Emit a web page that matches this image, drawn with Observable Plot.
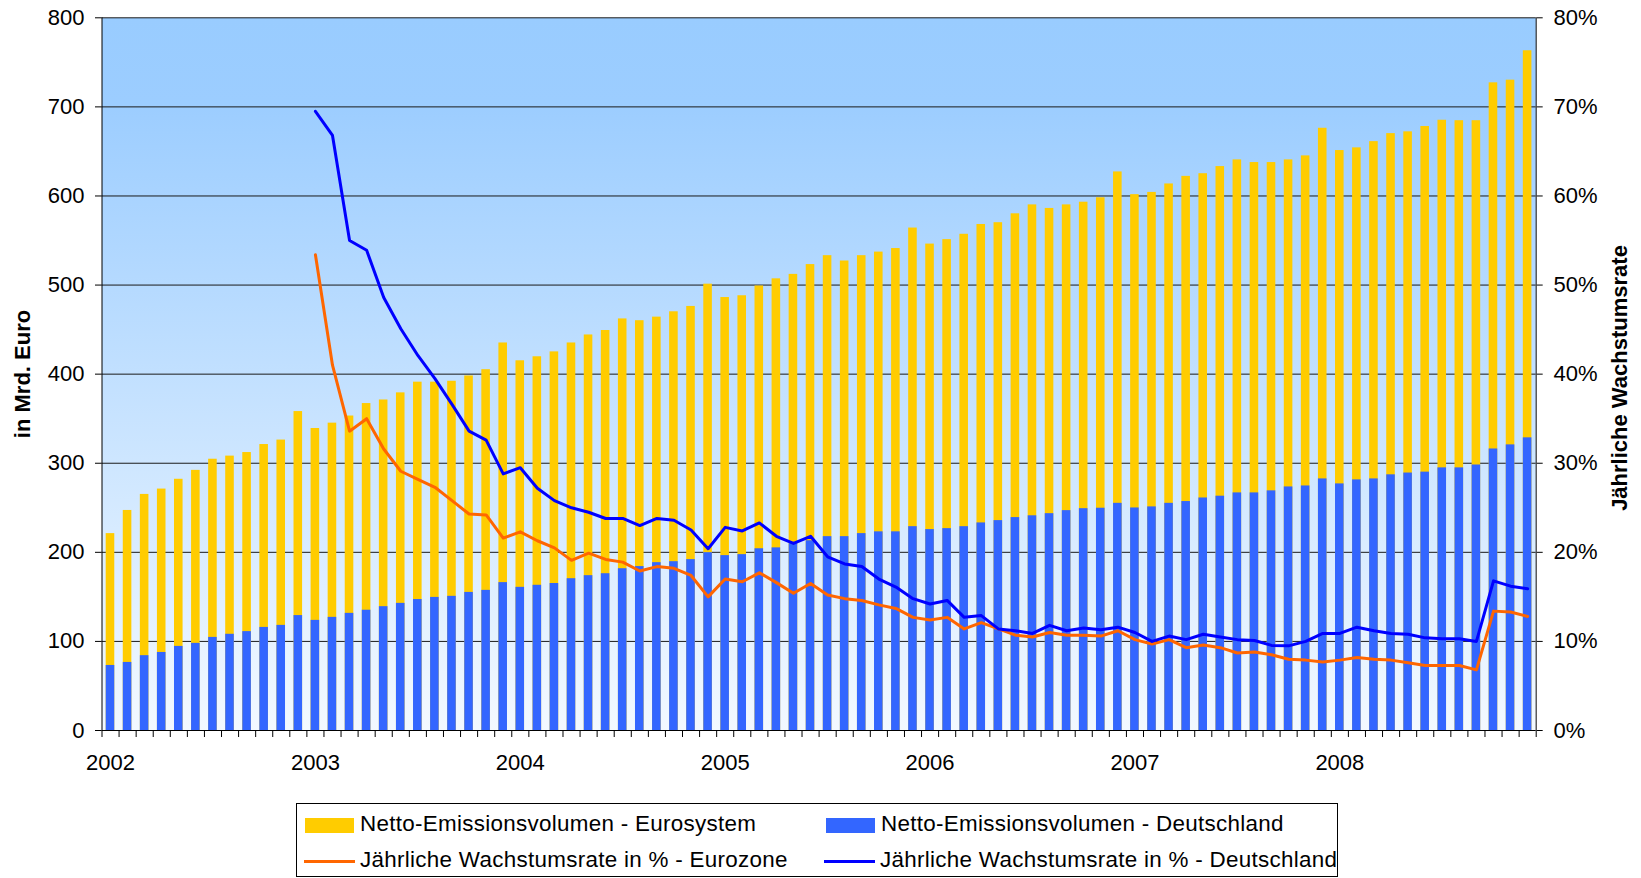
<!DOCTYPE html>
<html>
<head>
<meta charset="utf-8">
<script src="https://cdn.jsdelivr.net/npm/d3@7"></script>
<script src="https://cdn.jsdelivr.net/npm/@observablehq/plot@0.6"></script>
<style>
  html, body { margin: 0; padding: 0; background: #fff; }
  body { font-family: "Liberation Sans", Arial, sans-serif; color: #000; }
  #wrap { position: relative; width: 1641px; height: 878px; overflow: hidden; }
  #chart { position: absolute; left: 0; top: 0; }
  .vtitle { position: absolute; font: bold 22px "Liberation Sans", Arial, sans-serif; white-space: nowrap;
            transform: translate(-50%, -50%) rotate(-90deg); }
  #legend { position: absolute; left: 296px; top: 803px; width: 1042px; height: 74px;
            border: 1px solid #000; box-sizing: border-box; background: #fff; }
  .lg-text { position: absolute; font: 22.4px "Liberation Sans", Arial, sans-serif; letter-spacing: 0.3px; white-space: nowrap;
             transform: translateY(-50%); }
  .lg-box { position: absolute; }
</style>
</head>
<body>
<div id="wrap">
  <div id="chart"></div>
  <div class="vtitle" style="left:23px; top:374px;">in Mrd. Euro</div>
  <div class="vtitle" style="left:1620px; top:378px;">Jährliche Wachstumsrate</div>
  <div id="legend"></div>
</div>
<script>
// ---------- Data ----------
const years = [2002, 2003, 2004, 2005, 2006, 2007, 2008];

// Netto-Emissionsvolumen - Eurosystem (Mrd. Euro), monthly Jan 2002 - Dec 2008
const eurosystem = [
  221, 247, 265, 271, 282, 292, 304.5, 308, 312, 321, 326, 358,
  339, 345, 353, 367, 371, 379, 391, 391, 392, 398, 405, 435,
  415, 419.5, 425, 435, 444, 449, 462, 460, 464, 470, 476, 501,
  486, 488, 499, 507, 512, 523, 533, 527, 533, 537, 541, 564,
  546, 551, 557, 568, 570, 580, 590, 586, 590, 593, 598, 627,
  601.5, 604, 613.5, 622, 625, 633, 640.5, 637.5, 637.5, 640.5, 645, 676,
  651, 654, 661, 670, 672, 678, 685, 684.5, 684.5, 727, 730, 763
];

// Netto-Emissionsvolumen - Deutschland (Mrd. Euro)
const deutschland = [
  73, 76.4, 84, 87.6, 94.4, 97.8, 104.5, 108, 111, 115.7, 118, 129,
  123.6, 127, 131.5, 135, 139, 142.7, 147, 149.4, 150.6, 155, 157.3, 166,
  160.7, 163, 165, 170.4, 173.8, 176, 181.6, 184, 188.4, 189.5, 191.8, 199.6,
  196.3, 197.4, 204, 205, 209.7, 213, 217.6, 217.6, 221, 223, 223, 228.8,
  225.5, 226.6, 228.8, 233, 235.6, 239, 241, 243.4, 246.8, 249, 249.5, 255,
  249.8, 251, 255, 257, 261, 263, 266.7, 266.7, 269, 273.4, 274.5, 282.4,
  276.8, 281.3, 282.4, 287, 289, 290, 294.8, 294.8, 298, 316, 320.6, 328.5
];

// Growth rates (%), monthly Jan 2003 - Dec 2008
const rateStartYear = 2003;
const rateEurozone = [
  53.4, 41.0, 33.6, 35.0, 31.6, 29.1, 28.2, 27.3, 25.8, 24.3, 24.2, 21.6,
  22.3, 21.3, 20.5, 19.1, 19.9, 19.2, 18.9, 17.9, 18.4, 18.2, 17.4, 15.0,
  17.0, 16.7, 17.7, 16.6, 15.4, 16.5, 15.2, 14.8, 14.6, 14.1, 13.7, 12.7,
  12.4, 12.7, 11.4, 12.1, 11.4, 10.7, 10.5, 11.0, 10.7, 10.7, 10.6, 11.2,
  10.2, 9.7, 10.2, 9.3, 9.6, 9.3, 8.7, 8.8, 8.5, 8.0, 7.9, 7.7,
  7.9, 8.2, 8.0, 7.9, 7.6, 7.3, 7.3, 7.3, 6.8, 13.4, 13.3, 12.8
];
const rateDeutschland = [
  69.5, 66.8, 55.0, 53.9, 48.6, 45.1, 42.1, 39.5, 36.6, 33.6, 32.6, 28.8,
  29.5, 27.2, 25.8, 25.0, 24.5, 23.8, 23.8, 23.0, 23.8, 23.6, 22.5, 20.4,
  22.8, 22.4, 23.3, 21.8, 21.0, 21.8, 19.5, 18.7, 18.4, 17.0, 16.1, 14.8,
  14.2, 14.6, 12.7, 12.9, 11.4, 11.2, 10.9, 11.8, 11.2, 11.5, 11.3, 11.6,
  11.0, 10.0, 10.6, 10.2, 10.8, 10.5, 10.2, 10.1, 9.55, 9.5, 10.0, 10.9,
  10.9, 11.6, 11.2, 10.9, 10.8, 10.4, 10.3, 10.3, 10.0, 16.8, 16.2, 15.9
];

const leftTicks = [0, 100, 200, 300, 400, 500, 600, 700, 800];
const rightMax = 80;   // right axis: 0% .. 80%
const leftMax = 800;   // left axis: 0 .. 800

const seriesNames = {
  euro: "Netto-Emissionsvolumen - Eurosystem",
  de: "Netto-Emissionsvolumen - Deutschland",
  rEuro: "Jährliche Wachstumsrate in % - Eurozone",
  rDe: "Jährliche Wachstumsrate in % - Deutschland"
};
const colors = { euro: "#FFCC00", de: "#3366FF", rEuro: "#FF6600", rDe: "#0000FF" };

// ---------- Tables ----------
const nMonths = years.length * 12;
const bars = d3.range(nMonths).map(i => ({ i, euro: eurosystem[i], de: deutschland[i] }));
const rateOffset = (rateStartYear - years[0]) * 12;
const k = leftMax / rightMax;
const lineEuro = rateEurozone.map((v, j) => ({ i: rateOffset + j, v: v * k }));
const lineDe = rateDeutschland.map((v, j) => ({ i: rateOffset + j, v: v * k }));
const yearTicks = years.map((y, j) => j * 12 + 0.5);

// ---------- Chart ----------
const W = 1641, H = 790;
const chart = Plot.plot({
  width: W,
  height: H,
  marginLeft: 101.5,
  marginRight: 105.3,
  marginTop: 17.3,
  marginBottom: 60,
  style: { fontFamily: "'Liberation Sans', Arial, sans-serif", fontSize: "22px", color: "#000", background: "transparent", overflow: "visible" },
  x: { type: "linear", domain: [0, nMonths] },
  y: { domain: [0, leftMax] },
  marks: [
    Plot.frame({ fill: "url(#bgGrad)", stroke: "none" }),
    Plot.ruleY(leftTicks.slice(1), { stroke: "#1a1a1a", strokeWidth: 1 }),
    Plot.rectY(bars, { x1: d => d.i, x2: d => d.i + 1, y: "euro", fill: colors.euro, insetLeft: 4.2, insetRight: 4.3 }),
    Plot.rectY(bars, { x1: d => d.i, x2: d => d.i + 1, y: "de", fill: colors.de, insetLeft: 4.2, insetRight: 4.3 }),
    Plot.line(lineEuro, { x: d => d.i + 0.5, y: "v", stroke: colors.rEuro, strokeWidth: 3, strokeLinejoin: "round" }),
    Plot.line(lineDe, { x: d => d.i + 0.5, y: "v", stroke: colors.rDe, strokeWidth: 3, strokeLinejoin: "round" }),
    Plot.ruleY([0], { stroke: "#000", strokeWidth: 1 }),
    Plot.ruleX([0], { stroke: "#000", strokeWidth: 1 }),
    Plot.ruleX([nMonths], { stroke: "#333", strokeWidth: 1.2 }),
    Plot.axisY({ anchor: "left", ticks: leftTicks, tickSize: 6.5, tickPadding: 11, label: null, fontSize: 22 }),
    Plot.axisY({ anchor: "right", ticks: leftTicks, tickFormat: d => (d / k) + "%", tickSize: 6, tickPadding: 11.3, label: null, fontSize: 22 }),
    Plot.axisX({ ticks: d3.range(0, nMonths + 1), tickFormat: () => "", tickSize: 7, label: null }),
    Plot.axisX({ ticks: yearTicks, tickFormat: (d) => String(years[Math.round((d - 0.5) / 12)]), tickSize: 0, tickPadding: 24, label: null, fontSize: 22 })
  ]
});

const defs = document.createElementNS("http://www.w3.org/2000/svg", "defs");
defs.innerHTML = '<linearGradient id="bgGrad" x1="0" y1="0" x2="0" y2="1">' +
  '<stop offset="0" stop-color="#99CCFF"/>' +
  '<stop offset="0.12" stop-color="#9CCDFF"/>' +
  '<stop offset="1" stop-color="#F3F9FF"/>' +
  '</linearGradient>';
chart.prepend(defs);
document.getElementById("chart").appendChild(chart);

// ---------- Legend ----------
const legend = document.getElementById("legend");
const items = [
  { key: "euro", type: "box", left: 8, top: 19.5 },
  { key: "de", type: "box", left: 529, top: 19.5 },
  { key: "rEuro", type: "line", left: 7, top: 55.5 },
  { key: "rDe", type: "line", left: 527, top: 55.5 }
];
for (const it of items) {
  const sw = document.createElement("div");
  sw.className = "lg-box";
  if (it.type === "box") {
    sw.style.cssText = `left:${it.left}px; top:${it.top - 5.5}px; width:49px; height:15px; background:${colors[it.key]};`;
  } else {
    sw.style.cssText = `left:${it.left}px; top:${it.top + 0.5}px; width:51px; height:3px; background:${colors[it.key]};`;
  }
  legend.appendChild(sw);
  const tx = document.createElement("div");
  tx.className = "lg-text";
  tx.style.left = (it.left + (it.type === "box" ? 55 : 56)) + "px";
  tx.style.top = it.top + "px";
  tx.textContent = seriesNames[it.key];
  legend.appendChild(tx);
}
</script>
</body>
</html>
